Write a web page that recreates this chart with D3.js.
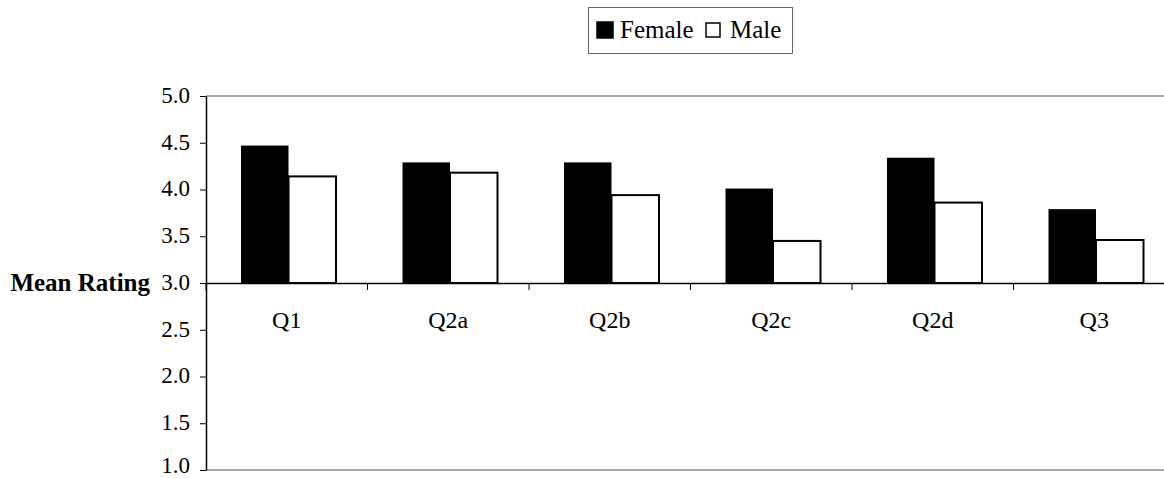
<!DOCTYPE html>
<html>
<head>
<meta charset="utf-8">
<script src="https://cdn.jsdelivr.net/npm/d3@7"></script>
<style>
  html, body { margin: 0; padding: 0; background: #fff; }
  svg { display: block; }
  text { font-family: "Liberation Serif", "Times New Roman", serif; fill: #000; }
</style>
</head>
<body>
<svg id="chart" width="1164" height="478"></svg>
<script>
// Mean rating per question, split by gender
const categories = ["Q1", "Q2a", "Q2b", "Q2c", "Q2d", "Q3"];
const series = ["Female", "Male"];
const femaleValues = [4.47, 4.29, 4.29, 4.01, 4.34, 3.79];
const maleValues = [4.14, 4.18, 3.94, 3.45, 3.86, 3.46];
const yTicks = [1.0, 1.5, 2.0, 2.5, 3.0, 3.5, 4.0, 4.5, 5.0];
const baseline = 3.0;

const data = categories.map((c, i) => ({ cat: c, Female: femaleValues[i], Male: maleValues[i] }));

const svg = d3.select("#chart");

const plot = { left: 206, right: 1175, top: 96, bottom: 470 };

const y = d3.scaleLinear().domain([1, 5]).range([plot.bottom, plot.top]);
const x0 = d3.scaleBand().domain(categories).range([plot.left, plot.right]).paddingInner(0).paddingOuter(0);
const x1 = d3.scaleBand().domain(series).range([35, 130]).padding(0);

// plot area border lines (top and bottom)
svg.append("line")
  .attr("x1", plot.left).attr("x2", plot.right)
  .attr("y1", y(5)).attr("y2", y(5))
  .attr("stroke", "#555").attr("stroke-width", 1);
svg.append("line")
  .attr("x1", plot.left).attr("x2", plot.right)
  .attr("y1", y(1)).attr("y2", y(1))
  .attr("stroke", "#555").attr("stroke-width", 1);

// bars grow up or down from the 3.0 crossing line
const groups = svg.append("g").selectAll("g")
  .data(data).join("g")
  .attr("transform", d => `translate(${x0(d.cat)},0)`);

groups.append("rect")
  .attr("x", x1("Female"))
  .attr("width", x1.bandwidth())
  .attr("y", d => y(Math.max(d.Female, baseline)))
  .attr("height", d => Math.abs(y(d.Female) - y(baseline)))
  .attr("fill", "#000");

groups.append("rect")
  .attr("x", x1("Male"))
  .attr("width", x1.bandwidth())
  .attr("y", d => y(Math.max(d.Male, baseline)))
  .attr("height", d => Math.abs(y(d.Male) - y(baseline)))
  .attr("fill", "#fff")
  .attr("stroke", "#000")
  .attr("stroke-width", 2);

// value axis
const yAxis = d3.axisLeft(y)
  .tickValues(yTicks)
  .tickFormat(d3.format(".1f"))
  .tickSizeInner(6)
  .tickSizeOuter(0)
  .tickPadding(10);

const gy = svg.append("g")
  .attr("transform", `translate(${plot.left},0)`)
  .call(yAxis);
gy.select(".domain").attr("stroke", "#000").attr("stroke-width", 1.5);
gy.selectAll(".tick line").attr("stroke", "#000");
gy.selectAll(".tick text")
  .attr("font-family", "Liberation Serif, Times New Roman, serif")
  .attr("font-size", 23)
  .attr("dy", d => d === yTicks[0] ? "0.1em" : "0.28em")
  .attr("fill", "#000");

// category axis crossing at 3.0
const xAxis = d3.axisBottom(x0).tickSize(0).tickPadding(28);
const gx = svg.append("g")
  .attr("transform", `translate(0,${y(baseline)})`)
  .call(xAxis);
gx.select(".domain").attr("stroke", "#000").attr("stroke-width", 1.5);
gx.selectAll(".tick text")
  .attr("font-family", "Liberation Serif, Times New Roman, serif")
  .attr("font-size", 24)
  .attr("fill", "#000");

// category boundary ticks
const boundaries = categories.map(c => x0(c)).concat([x0(categories[categories.length - 1]) + x0.bandwidth()]);
gx.append("g").selectAll("line")
  .data(boundaries).join("line")
  .attr("x1", d => d).attr("x2", d => d)
  .attr("y1", 0).attr("y2", 7)
  .attr("stroke", "#000").attr("stroke-width", 1);

// axis title
svg.append("text")
  .attr("x", 150)
  .attr("y", y(baseline))
  .attr("dy", "0.3em")
  .attr("text-anchor", "end")
  .attr("font-size", 25)
  .attr("font-weight", "bold")
  .text("Mean Rating");

// legend
const legend = svg.append("g");
legend.append("rect")
  .attr("x", 588.5).attr("y", 7.5)
  .attr("width", 204).attr("height", 46)
  .attr("fill", "#fff").attr("stroke", "#666").attr("stroke-width", 1);

const legendItems = [
  { name: series[0], x: 597, size: 16, fill: "#000", textX: 620 },
  { name: series[1], x: 706, size: 14, fill: "#fff", textX: 730 }
];
legendItems.forEach(it => {
  legend.append("rect")
    .attr("x", it.x).attr("y", 30 - it.size / 2)
    .attr("width", it.size).attr("height", it.size)
    .attr("fill", it.fill)
    .attr("stroke", "#000").attr("stroke-width", 1.5);
  legend.append("text")
    .attr("x", it.textX).attr("y", 38)
    .attr("font-size", 25)
    .text(it.name);
});
</script>
</body>
</html>
